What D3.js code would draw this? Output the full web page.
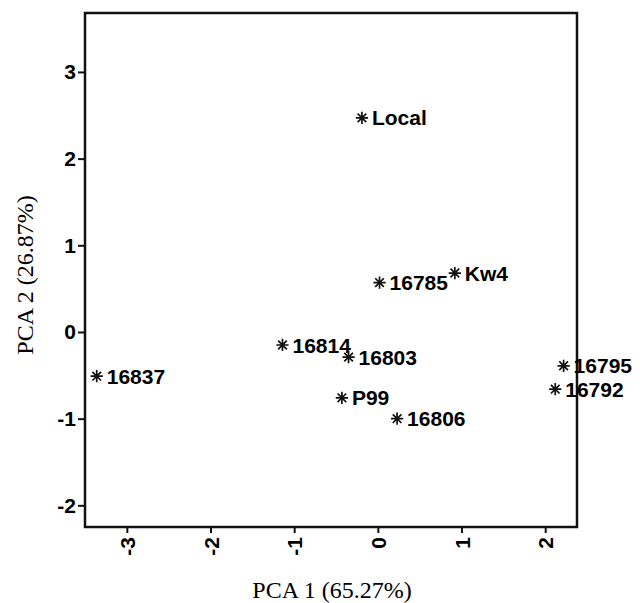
<!DOCTYPE html>
<html>
<head>
<meta charset="utf-8">
<script src="https://cdn.jsdelivr.net/npm/d3@7"></script>
<style>
  body { margin: 0; background: #fff; }
  svg { display: block; }
</style>
</head>
<body>
<div id="chart"></div>
<script>
// Sample names and their PCA scores
const samples = ['Local', '16785', 'Kw4', '16837', '16814', '16803', 'P99', '16806', '16795', '16792'];
const pca1 = [-0.19, 0.02, 0.92, -3.36, -1.14, -0.35, -0.43, 0.23, 2.22, 2.12];
const pca2 = [2.47, 0.57, 0.68, -0.51, -0.15, -0.29, -0.76, -1.00, -0.39, -0.66];

const xTicks = [-3, -2, -1, 0, 1, 2];
const yTicks = [-2, -1, 0, 1, 2, 3];

const width = 640;
const height = 603;
const margin = { top: 13, right: 63, bottom: 76, left: 85 };
const innerW = width - margin.left - margin.right;
const innerH = height - margin.top - margin.bottom;

const svg = d3.select('#chart').append('svg')
    .attr('width', width)
    .attr('height', height);

const g = svg.append('g')
    .attr('transform', `translate(${margin.left},${margin.top})`);

const x = d3.scaleLinear().domain([-3.5, 2.38]).range([0, innerW]);
const y = d3.scaleLinear().domain([-2.25, 3.68]).range([innerH, 0]);

// Frame
g.append('rect')
    .attr('width', innerW)
    .attr('height', innerH)
    .attr('fill', 'none')
    .attr('stroke', '#111')
    .attr('stroke-width', 2.5);

// Axes (plain hyphen for negatives, as in the original)
const fmt = d => String(d);

const xAxis = g.append('g')
    .attr('transform', `translate(0,${innerH})`)
    .call(d3.axisBottom(x).tickValues(xTicks).tickFormat(fmt).tickSize(6));

xAxis.selectAll('text')
    .attr('transform', 'rotate(-90)')
    .attr('x', -10)
    .attr('y', 0)
    .attr('dy', '0.36em')
    .style('text-anchor', 'end');

const yAxis = g.append('g')
    .call(d3.axisLeft(y).tickValues(yTicks).tickFormat(fmt).tickSize(7).tickPadding(2));

[xAxis, yAxis].forEach(ax => {
    ax.select('.domain').remove();
    ax.selectAll('line').attr('stroke', '#111').attr('stroke-width', 2);
    ax.selectAll('text')
        .attr('fill', '#000')
        .style('font-family', '"Liberation Sans", Arial, sans-serif')
        .style('font-weight', 'bold')
        .style('font-size', '21px');
});

// Asterisk symbol (plus + cross)
const asterisk = {
    draw(context, size) {
        const r = Math.sqrt(size) / 2;
        const d = r * Math.SQRT1_2;
        context.moveTo(-r, 0); context.lineTo(r, 0);
        context.moveTo(0, -r); context.lineTo(0, r);
        context.moveTo(-d, -d); context.lineTo(d, d);
        context.moveTo(-d, d); context.lineTo(d, -d);
    }
};

const points = samples.map((name, i) => ({ name, pc1: pca1[i], pc2: pca2[i] }));

const pts = g.selectAll('.pt')
    .data(points)
    .enter()
    .append('g')
    .attr('class', 'pt')
    .attr('transform', d => `translate(${x(d.pc1)},${y(d.pc2)})`);

pts.append('path')
    .attr('d', d3.symbol().type(asterisk).size(150))
    .attr('fill', 'none')
    .attr('stroke', '#111')
    .attr('stroke-width', 1.7);

pts.append('text')
    .attr('x', 10)
    .attr('y', 0)
    .attr('dy', '0.36em')
    .attr('fill', '#000')
    .style('font-family', '"Liberation Sans", Arial, sans-serif')
    .style('font-weight', 'bold')
    .style('font-size', '21px')
    .text(d => d.name);

// Axis titles
svg.append('text')
    .attr('x', 332)
    .attr('y', 598)
    .attr('text-anchor', 'middle')
    .style('font-family', '"Liberation Serif", "Times New Roman", serif')
    .style('font-size', '24px')
    .attr('fill', '#000')
    .text('PCA 1 (65.27%)');

svg.append('text')
    .attr('transform', 'translate(33,275) rotate(-90)')
    .attr('text-anchor', 'middle')
    .style('font-family', '"Liberation Serif", "Times New Roman", serif')
    .style('font-size', '24px')
    .attr('fill', '#000')
    .text('PCA 2 (26.87%)');
</script>
</body>
</html>
